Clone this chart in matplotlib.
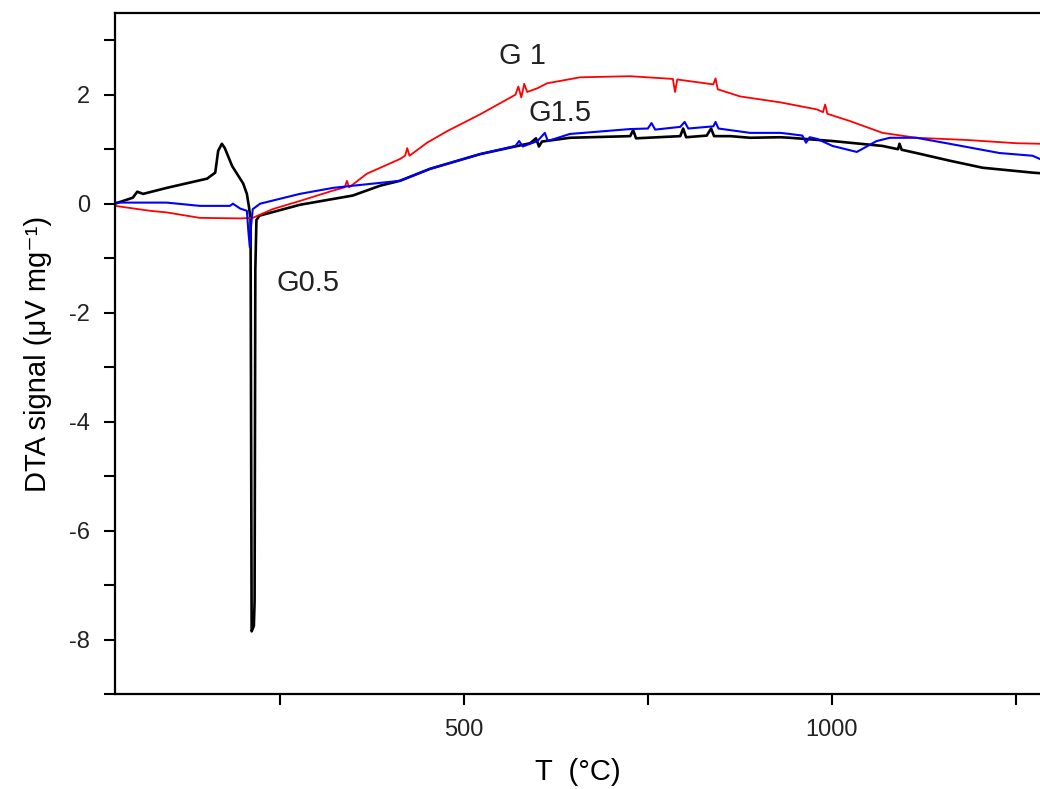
import matplotlib
matplotlib.use("Agg")
import matplotlib.pyplot as plt
from matplotlib.ticker import MultipleLocator

plt.rcParams["font.family"] = ["Liberation Sans", "DejaVu Sans"]
plt.rcParams["axes.unicode_minus"] = False

# G0.5 (black)
t_g05 = [26, 30, 50, 56, 64, 96, 151, 162, 166, 171, 175, 185, 200, 205, 208, 210,
         211.5, 214.5, 215.5, 216.5, 218, 222, 277, 349, 386, 413, 454, 522, 590, 598,
         602, 606, 644, 726, 730, 734, 794, 798, 802, 830, 836, 840, 862, 889, 930,
         943, 1001, 1069, 1090, 1092, 1095, 1115, 1160, 1205, 1273, 1283]
dta_g05 = [0.0, 0.02, 0.11, 0.22, 0.18, 0.29, 0.46, 0.57, 0.97, 1.10, 1.02, 0.69, 0.37, 0.18, -0.07, -0.3,
           -7.85, -7.75, -7.3, -1.2, -0.3, -0.22, -0.02, 0.15, 0.33, 0.42, 0.64, 0.91, 1.11, 1.2,
           1.05, 1.14, 1.21, 1.24, 1.35, 1.2, 1.24, 1.38, 1.22, 1.25, 1.38, 1.24, 1.24, 1.21, 1.22,
           1.21, 1.15, 1.06, 1.0, 1.1, 0.99, 0.93, 0.79, 0.66, 0.57, 0.56]

# G1 (red)
t_g1 = [26, 73, 96, 141, 196, 213, 240, 277, 322, 338, 341, 344, 368, 413, 420, 423, 426,
        450, 477, 522, 570, 574, 578, 582, 586, 600, 613, 658, 726, 784, 787, 790, 839, 842, 845,
        875, 930, 980, 988, 991, 994, 1024, 1069, 1115, 1183, 1251, 1283]
dta_g1 = [-0.04, -0.13, -0.16, -0.26, -0.27, -0.26, -0.1, 0.05, 0.24, 0.3, 0.42, 0.3, 0.55, 0.82, 0.88, 1.02, 0.88,
          1.12, 1.33, 1.64, 2.0, 2.15, 1.95, 2.2, 2.05, 2.12, 2.21, 2.32, 2.34, 2.29, 2.05, 2.28, 2.19, 2.3, 2.1,
          1.97, 1.86, 1.73, 1.68, 1.82, 1.65, 1.52, 1.3, 1.21, 1.17, 1.11, 1.1]

# G1.5 (blue)
t_g15 = [26, 96, 141, 182, 186, 196, 205, 207, 209, 210, 213, 223, 277, 322, 349, 413, 454,
         522, 570, 575, 580, 600, 610, 614, 644, 726, 750, 755, 760, 794, 800, 805, 839, 842,
         846, 889, 930, 943, 960, 965, 970, 980, 1001, 1034, 1061, 1079, 1115, 1160, 1228,
         1273, 1283]
dta_g15 = [0.02, 0.02, -0.04, -0.04, 0.0, -0.09, -0.13, -0.5, -0.8, -0.5, -0.1, 0.0, 0.18, 0.29, 0.33, 0.42, 0.64,
           0.91, 1.06, 1.15, 1.05, 1.15, 1.3, 1.15, 1.28, 1.37, 1.38, 1.48, 1.36, 1.41, 1.5, 1.38, 1.42, 1.5,
           1.38, 1.3, 1.3, 1.28, 1.25, 1.12, 1.22, 1.19, 1.06, 0.95, 1.15, 1.21, 1.21, 1.1, 0.93,
           0.88, 0.82]

labels = ["G0.5", "G 1", "G1.5"]
label_pos = [(245, -1.46), (579, 2.72), (630, 1.66)]

fig = plt.figure(figsize=(10.4, 7.89), dpi=100)
ax = fig.add_axes([0.1106, 0.1204, 0.8894, 0.8631])

ax.plot(t_g05, dta_g05, color="black", lw=1.9)
ax.plot(t_g1, dta_g1, color="#ff0000", lw=1.3)
ax.plot(t_g15, dta_g15, color="#0000ff", lw=1.5)

for txt, (x, y) in zip(labels, label_pos):
    ha = "left" if txt == "G0.5" else "center"
    ax.text(x, y, txt, fontsize=21, ha=ha, va="center", color="#222222")

ax.set_xlim(25.8, 1283)
ax.set_ylim(-9, 3.5)

ax.xaxis.set_major_locator(MultipleLocator(500))
ax.xaxis.set_minor_locator(MultipleLocator(250))
ax.yaxis.set_major_locator(MultipleLocator(2))
ax.yaxis.set_minor_locator(MultipleLocator(1))

for s in ["left", "bottom", "top"]:
    ax.spines[s].set_linewidth(1.6)
ax.spines["right"].set_visible(False)

ax.tick_params(which="both", direction="out", width=1.5, labelsize=17, labelcolor="#222222")
ax.tick_params(which="major", length=8, pad=10)
ax.tick_params(which="minor", length=8)

ax.set_xlabel("T  (°C)", fontsize=21, labelpad=12)
ax.set_ylabel("DTA signal (μV mg⁻¹)", fontsize=21, labelpad=12)

fig.savefig("out.png", dpi=100)
